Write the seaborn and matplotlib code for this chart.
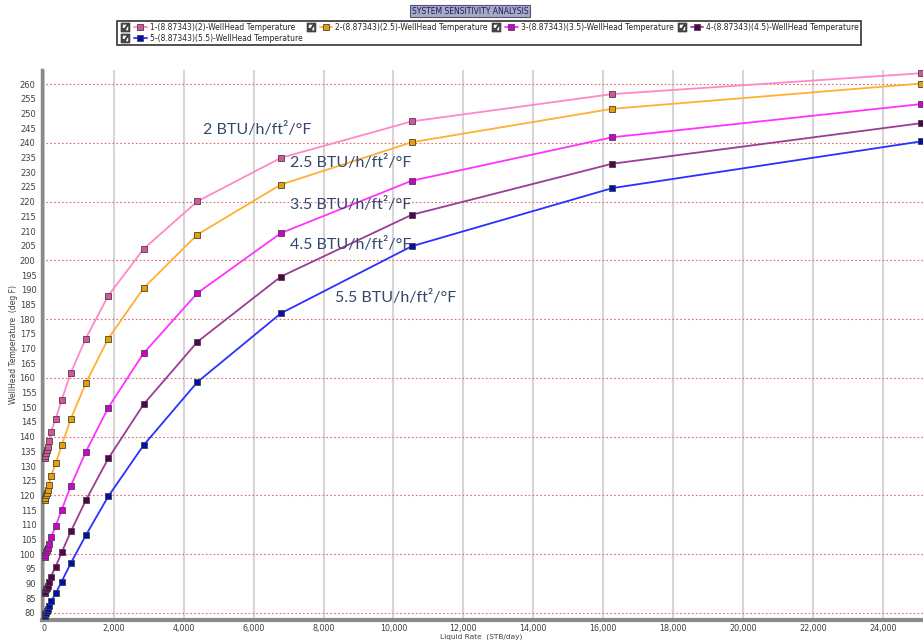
import pandas as pd
import matplotlib.pyplot as plt
import seaborn as sns
from matplotlib.ticker import MultipleLocator, FuncFormatter
from matplotlib.lines import Line2D
from matplotlib.legend_handler import HandlerTuple

# liquid rate (STB/day), shared by all sensitivity cases
liquid_rate = [19, 37, 57, 77, 106, 143, 200, 335, 506, 770, 1195, 1840,
               2850, 4390, 6780, 10520, 16260, 25100]

# wellhead temperature (deg F) for each U value
temp_u2 = [132.8, 133.4, 134.4, 135.5, 136.6, 138.4, 141.6, 146.1, 152.5, 161.8,
           173.4, 188.0, 203.9, 220.1, 234.9, 247.3, 256.6, 263.7]
temp_u25 = [118.4, 119.2, 120.0, 120.9, 121.8, 123.4, 126.6, 130.9, 137.0, 146.1,
            158.2, 173.4, 190.6, 208.8, 225.8, 240.2, 251.6, 260.2]
temp_u35 = [99.0, 99.8, 100.6, 101.4, 102.0, 103.5, 105.7, 109.6, 115.1, 123.3,
            134.8, 149.9, 168.4, 188.9, 209.3, 227.1, 241.9, 253.2]
temp_u45 = [86.8, 87.3, 88.0, 88.6, 89.3, 90.5, 92.4, 95.8, 100.6, 107.8,
            118.3, 132.6, 151.0, 172.3, 194.5, 215.5, 232.9, 246.7]
temp_u55 = [79.1, 79.5, 80.0, 80.6, 81.3, 82.2, 83.9, 86.7, 90.7, 97.0,
            106.4, 119.7, 137.1, 158.6, 182.0, 204.8, 224.6, 240.5]

series_names = ['1-(8.87343)(2)-WellHead Temperature',
                '2-(8.87343)(2.5)-WellHead Temperature',
                '3-(8.87343)(3.5)-WellHead Temperature',
                '4-(8.87343)(4.5)-WellHead Temperature',
                '5-(8.87343)(5.5)-WellHead Temperature']
series_temps = [temp_u2, temp_u25, temp_u35, temp_u45, temp_u55]
line_colors = ['#ff88c8', '#ffb030', '#ff33ff', '#9a3c96', '#2a30ff']
face_colors = ['#d9539f', '#e8a000', '#d000d0', '#5a0050', '#0010b0']

u_labels = ['2 BTU/h/ft²/°F', '2.5 BTU/h/ft²/°F', '3.5 BTU/h/ft²/°F',
            '4.5 BTU/h/ft²/°F', '5.5 BTU/h/ft²/°F']
u_label_x = [4549, 7039, 7039, 7039, 8326]
u_label_y = [244.6, 233.2, 219.0, 205.3, 187.2]

sns.set_style('white')
plt.rcParams['font.family'] = ['DejaVu Sans']

fig = plt.figure(figsize=(9.23, 6.4), dpi=100)
ax = fig.add_axes([42 / 923, 20 / 640, 881 / 923, 550 / 640])

handles = []
for name, temps, lc, fc in zip(series_names, series_temps, line_colors, face_colors):
    df = pd.DataFrame({'rate': liquid_rate, 'temp': temps})
    sns.lineplot(data=df, x='rate', y='temp', ax=ax, color=lc, lw=1.3,
                 marker='s', markersize=4, markerfacecolor=fc,
                 markeredgecolor='#444444', markeredgewidth=0.6,
                 estimator=None, sort=False, clip_on=False, zorder=3)
    box = Line2D([], [], marker='$\u2611$', color='#444444', ls='none', markersize=6)
    ln = Line2D([], [], color=lc, lw=1.3, marker='s', markersize=4,
                markerfacecolor=fc, markeredgecolor='#444444', markeredgewidth=0.6)
    handles.append((box, ln))

ax.set_xlim(-57, 25150)
ax.set_ylim(77.6, 264.8)

ax.xaxis.set_major_locator(MultipleLocator(2000))
ax.xaxis.set_minor_locator(MultipleLocator(500))
ax.xaxis.set_major_formatter(FuncFormatter(lambda v, p: f'{int(v):,}'))
ax.yaxis.set_major_locator(MultipleLocator(20))
ax.yaxis.set_minor_locator(MultipleLocator(5))
ax.yaxis.set_major_formatter(FuncFormatter(lambda v, p: f'{int(v)}'))
ax.yaxis.set_minor_formatter(FuncFormatter(lambda v, p: f'{int(v)}'))

ax.tick_params(axis='both', which='both', labelsize=6, labelcolor='#404040',
               color='#808080', direction='out')
ax.tick_params(axis='both', which='major', length=3, width=0.8)
ax.tick_params(axis='both', which='minor', length=2, width=0.6)
ax.tick_params(axis='x', which='both', pad=0, labelsize=5.8)
ax.tick_params(axis='y', which='both', pad=2)

ax.grid(False)
ax.xaxis.grid(True, which='major', color='#d6d6d6', lw=1.5, ls='-')
ax.yaxis.grid(True, which='major', color='#e46a6a', lw=0.8, ls=(0, (1.5, 2)))
ax.set_axisbelow(True)

for side in ['top', 'right']:
    ax.spines[side].set_visible(False)
ax.spines['left'].set_color('#8a8a8a')
ax.spines['left'].set_linewidth(2.5)
ax.spines['bottom'].set_color('#8a8a8a')
ax.spines['bottom'].set_linewidth(3)

ax.set_xlabel('')
ax.set_ylabel('')
fig.text(481 / 923, 1 - 636.5 / 640, 'Liquid Rate  (STB/day)', ha='center', va='center',
         fontsize=5.3, color='#404040')
fig.text(14 / 923, 1 - 345 / 640, 'WellHead Temperature  (deg F)', ha='center', va='center',
         rotation=90, fontsize=5.5, color='#404040')

for txt, tx, ty in zip(u_labels, u_label_x, u_label_y):
    ax.text(tx, ty, txt, ha='left', va='center', fontsize=11.5, color='#34466b',
            family=['Lato', 'DejaVu Sans'], zorder=4)

fig.text(470 / 923, 1 - 11 / 640, 'SYSTEM SENSITIVITY ANALYSIS', ha='center', va='center',
         fontsize=5.5, color='#1a1a5a',
         bbox=dict(boxstyle='square,pad=0.25', facecolor='#a6aac8', edgecolor='#555577', lw=0.8))

# column-major fill: first column holds entries 1 and 5
order = [0, 4, 1, 2, 3]
leg = fig.legend([handles[i] for i in order], [series_names[i] for i in order],
                 ncol=4, loc='upper left',
                 bbox_to_anchor=(113 / 923, 1 - 17 / 640),
                 handler_map={tuple: HandlerTuple(ndivide=None, pad=0.3)},
                 fontsize=5.5, frameon=True, fancybox=False, edgecolor='black',
                 handlelength=3.6, handletextpad=0.4, columnspacing=0.3,
                 labelspacing=0.25, borderpad=0.3)
leg.get_frame().set_linewidth(1.2)

fig.savefig('out.png', dpi=100)
